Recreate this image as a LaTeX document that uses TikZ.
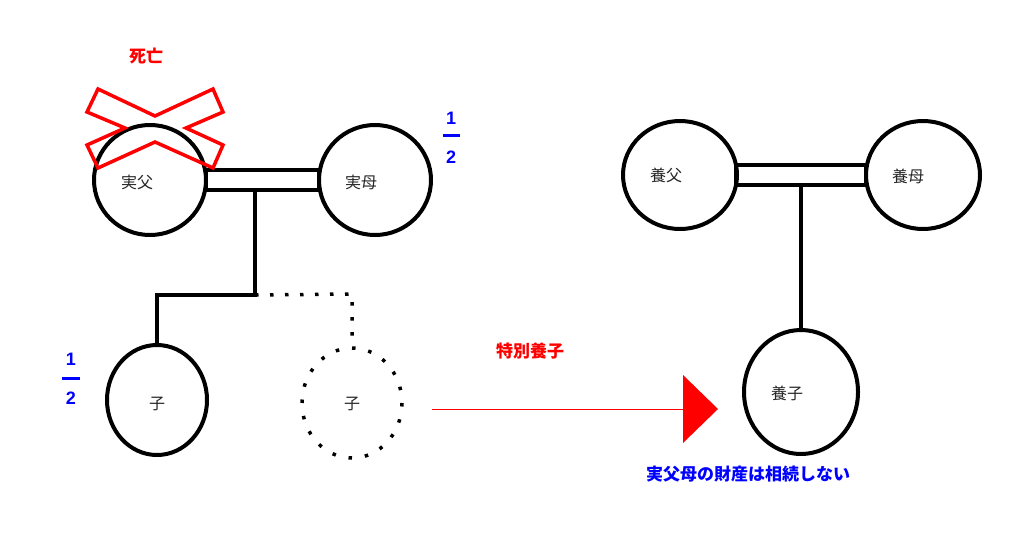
\documentclass[tikz,border=0pt]{standalone}
\usepackage{fontspec}
\setmainfont{Noto Sans CJK JP}
\newfontfamily\digits{Liberation Sans}
\begin{document}
\begin{tikzpicture}[x=1pt,y=-1pt,
  person/.style={draw=black,line width=4pt},
  lbl/.style={font=\fontsize{16}{18}\selectfont,text=black!85},
  redlbl/.style={font=\fontsize{17}{19}\selectfont\bfseries,text=red},
  bluelbl/.style={font=\fontsize{17}{19}\selectfont\bfseries,text=blue},
  frac/.style={font=\digits\fontsize{18}{20}\selectfont\bfseries,text=blue},
  link/.style={draw=black,line width=3.5pt},
  dotline/.style={draw=black,line width=3.5pt,dash pattern=on 3.5pt off 11.5pt}]
\useasboundingbox[fill=white] (0,0) rectangle (1024,536);
% left family
\draw[person] (150,180) ellipse [x radius=56,y radius=55];
\draw[person] (375,180) ellipse [x radius=56,y radius=55];
\node[lbl] (f) at (137,182) {実父};
\node[lbl] (m) at (361,182) {実母};
\draw[line width=4.5pt] (206,170) rectangle (319,190);
\coordinate (j1) at (255,190);
\coordinate (j2) at (255,295);
\coordinate (j3) at (157,295);
\coordinate (c1top) at (157,345);
\draw[link] (j1) -- (j2) -- (j3) -- (c1top);
\draw[person] (157,400) ellipse [x radius=50,y radius=55];
\node[lbl] (c1) at (157,404) {子};
\coordinate (d1) at (352,294);
\coordinate (c2top) at (352,346);
\draw[dotline] (j2) -- (d1) -- (c2top);
\draw[draw=black,line width=3.5pt,dash pattern=on 3.5pt off 13pt] (352,403) ellipse [x radius=50,y radius=55];
\node[lbl] (c2) at (352,404) {子};
% cross
\draw[red,line width=3.5pt,line join=miter] (98,89) -- (155,116) -- (213,89) -- (223,112) -- (186,128) -- (223,145) -- (213,168) -- (155,142) -- (98,168) -- (87,145) -- (125,128) -- (87,112) -- cycle;
\node[redlbl] (death) at (146,56) {死亡};
% fractions
\node[frac] (n1) at (451,118) {1};
\draw[blue,line width=3pt] (443,135) -- (460,135);
\node[frac] (d1n) at (451,157) {2};
\node[frac] (n2) at (71,359) {1};
\draw[blue,line width=3pt] (62,378) -- (80,378);
\node[frac] (d2n) at (71,398) {2};
% arrow
\coordinate (a0) at (432,409);
\coordinate (a1) at (684,409);
\draw[red,line width=1pt] (a0) -- (a1);
\fill[red] (683,375) -- (718,409) -- (683,443) -- cycle;
\node[redlbl] (tok) at (530,351) {特別養子};
% right family
\draw[person] (680,175) ellipse [x radius=57,y radius=54];
\draw[person] (923,175) ellipse [x radius=57,y radius=54];
\node[lbl] (yf) at (666,175) {養父};
\node[lbl] (ym) at (908,176) {養母};
\draw[line width=4.5pt] (736,165) rectangle (866,185);
\coordinate (k1) at (801,185);
\coordinate (k2) at (801,331);
\draw[link] (k1) -- (k2);
\draw[person] (801,392) ellipse [x radius=57,y radius=62];
\node[lbl] (yc) at (787,393) {養子};
\node[bluelbl] (note) at (748,474) {実父母の財産は相続しない};
\end{tikzpicture}
\end{document}
